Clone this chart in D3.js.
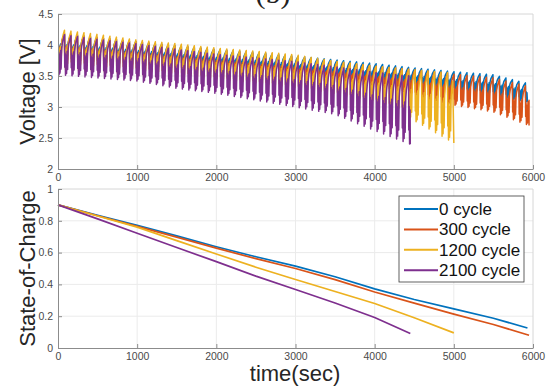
<!DOCTYPE html>
<html>
<head>
<meta charset="utf-8">
<script src="https://cdn.jsdelivr.net/npm/d3@7"></script>
<style>
  body { margin: 0; background: #fff; }
  svg { display: block; font-family: "Liberation Sans", Arial, Helvetica, sans-serif; }
</style>
</head>
<body>
<div id="chart"></div>
<script>
const W = 549, H = 392;

const seriesNames = ["0 cycle", "300 cycle", "1200 cycle", "2100 cycle"];
const seriesColors = ["#0072BD", "#D95319", "#EDB120", "#7E2F8E"];

const timeTicks = [0, 1000, 2000, 3000, 4000, 5000, 6000];
const voltTicks = [2, 2.5, 3, 3.5, 4, 4.5];
const socTicks = [0, 0.2, 0.4, 0.6, 0.8, 1];

// 0 cycle
const knots0 = [0, 500, 1000, 1500, 2000, 2500, 3000, 3500, 4000, 4500, 5000, 5500, 5930];
const soc0   = [0.90, 0.835, 0.772, 0.705, 0.637, 0.574, 0.515, 0.448, 0.372, 0.305, 0.246, 0.187, 0.126];
const vHigh0 = [4.18, 4.12, 4.05, 3.99, 3.93, 3.88, 3.82, 3.76, 3.70, 3.63, 3.57, 3.52, 3.38];
const vLow0  = [3.78, 3.74, 3.70, 3.65, 3.60, 3.55, 3.50, 3.44, 3.38, 3.32, 3.25, 3.18, 3.08];

// 300 cycle
const knots1 = [0, 500, 1000, 1500, 2000, 2500, 3000, 3500, 4000, 4500, 5000, 5500, 5950];
const soc1   = [0.90, 0.832, 0.765, 0.697, 0.628, 0.562, 0.50, 0.43, 0.352, 0.282, 0.213, 0.148, 0.08];
const vHigh1 = [4.20, 4.12, 4.05, 3.98, 3.92, 3.86, 3.80, 3.73, 3.66, 3.60, 3.53, 3.47, 3.33];
const vLow1  = [3.70, 3.66, 3.62, 3.56, 3.50, 3.45, 3.40, 3.33, 3.25, 3.15, 3.03, 2.92, 2.70];

// 1200 cycle
const knots2 = [0, 500, 1000, 1500, 2000, 2500, 3000, 3500, 4000, 4500, 5000];
const soc2   = [0.90, 0.83, 0.76, 0.675, 0.591, 0.508, 0.431, 0.355, 0.28, 0.19, 0.095];
const vHigh2 = [4.25, 4.17, 4.08, 4.02, 3.95, 3.90, 3.84, 3.74, 3.66, 3.60, 3.55];
const vLow2  = [3.62, 3.57, 3.52, 3.45, 3.37, 3.30, 3.22, 3.12, 3.00, 2.78, 2.42];

// 2100 cycle
const knots3 = [0, 500, 1000, 1500, 2000, 2500, 3000, 3500, 4000, 4450];
const soc3   = [0.90, 0.812, 0.722, 0.632, 0.543, 0.452, 0.368, 0.283, 0.192, 0.091];
const vHigh3 = [4.18, 4.09, 4.02, 3.93, 3.85, 3.79, 3.73, 3.65, 3.56, 3.50];
const vLow3  = [3.52, 3.47, 3.42, 3.30, 3.22, 3.11, 3.00, 2.88, 2.62, 2.40];

// one current pulse of the load profile (phase within period, fraction of the drop)
const pulsePeriod = 82;
const pulsePhase = [0, 0.04, 0.1, 0.16, 0.24, 0.32, 0.4, 0.48, 0.56, 0.66, 0.8, 1];
const pulseDepth = [0, 0.8, 0.45, 1, 0.5, 0.95, 0.4, 0.85, 0.35, 0.22, 0.12, 0];

const knots = [knots0, knots1, knots2, knots3];
const socs = [soc0, soc1, soc2, soc3];
const highs = [vHigh0, vHigh1, vHigh2, vHigh3];
const lows = [vLow0, vLow1, vLow2, vLow3];

const svg = d3.select("#chart").append("svg")
    .attr("width", W)
    .attr("height", H);

const left = 58, right = 533;
const top1 = 14, bottom1 = 169;
const top2 = 189, bottom2 = 348;

const x = d3.scaleLinear().domain([0, 6000]).range([left, right]);
const yV = d3.scaleLinear().domain([2, 4.5]).range([bottom1, top1]);
const yS = d3.scaleLinear().domain([0, 1]).range([bottom2, top2]);

// title, cut off at the top of the image
svg.append("text")
    .attr("x", 273).attr("y", 3)
    .attr("text-anchor", "middle")
    .style("font-family", "'Liberation Serif', 'DejaVu Serif', serif")
    .style("font-size", "30px")
    .attr("fill", "#222")
    .text("(b)");

function drawFrame(y, ticks, top, bottom) {
    const g = svg.append("g");
    g.append("g").selectAll("line").data(timeTicks.slice(1, -1)).join("line")
        .attr("x1", d => x(d)).attr("x2", d => x(d))
        .attr("y1", top).attr("y2", bottom)
        .attr("stroke", "#ebebeb");
    g.append("g").selectAll("line").data(ticks.slice(1, -1)).join("line")
        .attr("x1", left).attr("x2", right)
        .attr("y1", d => y(d)).attr("y2", d => y(d))
        .attr("stroke", "#ebebeb");
    g.append("path")
        .attr("d", `M${left},${top}H${right}V${bottom}`)
        .attr("fill", "none")
        .attr("stroke", "#d6d6d6");
    return g;
}

function drawAxes(y, ticks, bottom) {
    const ax = svg.append("g")
        .attr("transform", `translate(0,${bottom})`)
        .call(d3.axisBottom(x).tickValues(timeTicks).tickFormat(d => String(d))
            .tickSize(-4).tickSizeOuter(0).tickPadding(5));
    const ay = svg.append("g")
        .attr("transform", `translate(${left},0)`)
        .call(d3.axisLeft(y).tickValues(ticks).tickFormat(d => String(d))
            .tickSize(-4).tickSizeOuter(0).tickPadding(5));
    [ax, ay].forEach(a => {
        a.select(".domain").attr("stroke", "#8c8c8c");
        a.selectAll(".tick line").attr("stroke", "#8c8c8c");
        a.selectAll(".tick text").attr("fill", "#4a4a4a").style("font-size", "10.5px");
    });
}

drawFrame(yV, voltTicks, top1, bottom1);
drawFrame(yS, socTicks, top2, bottom2);

svg.append("clipPath").attr("id", "clipV")
    .append("rect").attr("x", left).attr("y", top1)
    .attr("width", right - left).attr("height", bottom1 - top1);

// voltage traces
const lineV = d3.line().x(d => x(d[0])).y(d => yV(d[1]));
const gV = svg.append("g").attr("clip-path", "url(#clipV)");
seriesNames.forEach((name, i) => {
    const hi = d3.scaleLinear().domain(knots[i]).range(highs[i]);
    const lo = d3.scaleLinear().domain(knots[i]).range(lows[i]);
    const end = knots[i][knots[i].length - 1];
    const pts = [];
    for (let t0 = 0; t0 < end; t0 += pulsePeriod) {
        pulsePhase.forEach((p, j) => {
            const t = t0 + p * pulsePeriod;
            if (t > end) return;
            pts.push([t, hi(t) - pulseDepth[j] * (hi(t) - lo(t))]);
        });
    }
    pts.push([end, lo(end)]);
    gV.append("path")
        .attr("d", lineV(pts))
        .attr("fill", "none")
        .attr("stroke", seriesColors[i])
        .attr("stroke-width", 1.5)
        .attr("stroke-linejoin", "round");
});

// state of charge
const lineS = d3.line().x(d => x(d[0])).y(d => yS(d[1]));
seriesNames.forEach((name, i) => {
    svg.append("path")
        .attr("d", lineS(knots[i].map((t, j) => [t, socs[i][j]])))
        .attr("fill", "none")
        .attr("stroke", seriesColors[i])
        .attr("stroke-width", 1.7);
});

drawAxes(yV, voltTicks, bottom1);
drawAxes(yS, socTicks, bottom2);

// axis labels
svg.append("text")
    .attr("transform", `translate(35,${(top1 + bottom1) / 2}) rotate(-90)`)
    .attr("text-anchor", "middle")
    .style("font-size", "22px")
    .attr("fill", "#262626")
    .text("Voltage [V]");

svg.append("text")
    .attr("transform", `translate(35,${(top2 + bottom2) / 2}) rotate(-90)`)
    .attr("text-anchor", "middle")
    .style("font-size", "22px")
    .attr("fill", "#262626")
    .text("State-of-Charge");

svg.append("text")
    .attr("x", 295).attr("y", 381)
    .attr("text-anchor", "middle")
    .style("font-size", "22px")
    .attr("fill", "#262626")
    .text("time(sec)");

// legend
const legend = svg.append("g").attr("transform", "translate(399,196)");
legend.append("rect")
    .attr("width", 125).attr("height", 86)
    .attr("fill", "#fff")
    .attr("stroke", "#3a3a3a")
    .attr("stroke-width", 0.8);
seriesNames.forEach((name, i) => {
    const yy = 13 + i * 20.4;
    legend.append("line")
        .attr("x1", 5).attr("x2", 39)
        .attr("y1", yy).attr("y2", yy)
        .attr("stroke", seriesColors[i])
        .attr("stroke-width", 2);
    legend.append("text")
        .attr("x", 40).attr("y", yy)
        .attr("dy", "0.35em")
        .style("font-size", "17px")
        .attr("fill", "#111")
        .text(name);
});
</script>
</body>
</html>
